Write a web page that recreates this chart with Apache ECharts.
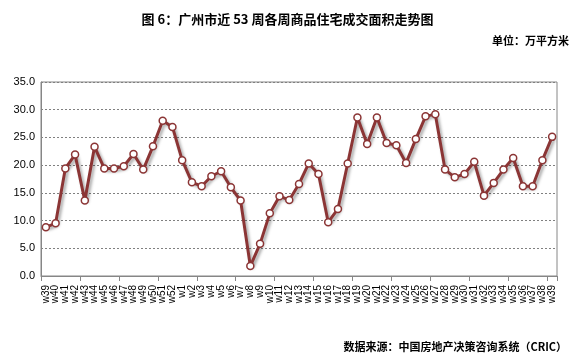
<!DOCTYPE html>
<html><head><meta charset="utf-8">
<script src="https://cdn.jsdelivr.net/npm/echarts@6/dist/echarts.min.js"></script>
<style>html,body{margin:0;padding:0;background:#fff}#c{width:575px;height:362px}</style>
</head><body><div id="c"></div>
<script>
const categories = ['w39','w40','w41','w42','w43','w44','w45','w46','w47','w48','w49','w50','w51','w52',
 'w1','w2','w3','w4','w5','w6','w7','w8','w9','w10','w11','w12','w13','w14','w15','w16','w17','w18','w19','w20',
 'w21','w22','w23','w24','w25','w26','w27','w28','w29','w30','w31','w32','w33','w34','w35','w36','w37','w38','w39'];
const areaValues = [8.8,9.5,19.4,21.9,13.6,23.3,19.4,19.4,19.8,22.0,19.2,23.4,28.0,26.9,
 20.9,16.9,16.2,18.0,18.9,16.0,13.6,1.8,5.8,11.3,14.4,13.7,16.6,20.3,18.4,9.7,12.1,20.3,28.6,23.8,
 28.6,24.0,23.6,20.4,24.7,28.8,29.2,19.2,17.8,18.4,20.6,14.5,16.8,19.2,21.3,16.2,16.2,20.9,25.1];
const yTicks = [0,5,10,15,20,25,30,35];
const titleText = '图 6：广州市近 53 周各周商品住宅成交面积走势图';
const unitText = '单位：万平方米';
const sourceText = '数据来源：中国房地产决策咨询系统（CRIC）';

const chart = echarts.init(document.getElementById('c'));
const cjk = '"Noto Sans CJK SC", sans-serif';
chart.setOption({
  animation: false,
  title: { text: titleText, left: 'center', top: 8,
    textStyle: { fontFamily: cjk, fontSize: 13, fontWeight: 'bold', color: '#000' } },
  graphic: [
    { type: 'text', right: 6, top: 35, style: { text: unitText, font: 'bold 11px "Noto Sans CJK SC"', fill: '#000' } },
    { type: 'text', right: 8, top: 341, style: { text: sourceText, font: 'bold 11px "Noto Sans CJK SC"', fill: '#000' } }
  ],
  grid: { left: 41, right: 18, top: 82, bottom: 86, show: true, borderColor: '#868686', borderWidth: 1 },
  xAxis: {
    type: 'category', data: categories, boundaryGap: true,
    axisLine: { lineStyle: { color: '#868686', width: 1 } },
    axisTick: { show: true, interval: 3, length: 5, lineStyle: { color: '#868686' } },
    axisLabel: { interval: 0, rotate: 90, fontSize: 10, color: '#000', fontFamily: 'Liberation Sans, Arial', margin: 9 }
  },
  yAxis: {
    type: 'value', min: yTicks[0], max: yTicks[yTicks.length-1], interval: 5,
    axisLine: { show: true, lineStyle: { color: '#868686' } },
    axisTick: { show: false },
    axisLabel: { formatter: v => v.toFixed(1), fontSize: 11, color: '#000', fontFamily: 'Liberation Sans, Arial', margin: 6 },
    splitLine: { show: true, lineStyle: { color: '#808080', type: [2, 2], width: 1 } }
  },
  series: [{
    type: 'line', data: areaValues, symbol: 'circle', symbolSize: 7,
    lineStyle: { color: '#8B3535', width: 3, shadowColor: 'rgba(0,0,0,0.35)', shadowBlur: 3, shadowOffsetX: 2, shadowOffsetY: 2 },
    itemStyle: { color: '#fff', borderColor: '#8B3535', borderWidth: 1.5 }
  }]
});
</script></body></html>
